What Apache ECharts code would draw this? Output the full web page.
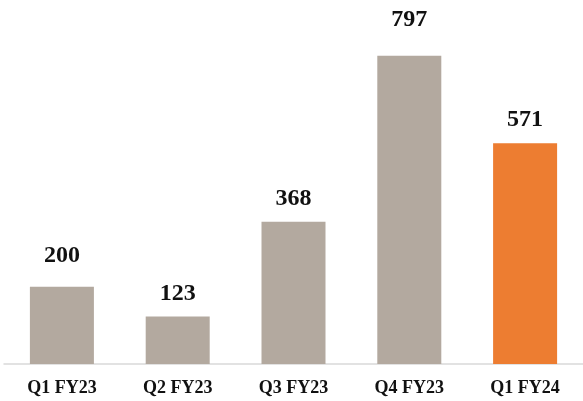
<!DOCTYPE html>
<html><head><meta charset="utf-8">
<script src="https://cdn.jsdelivr.net/npm/echarts@6/dist/echarts.min.js"></script>
<style>html,body{margin:0;padding:0;background:#fff}#c{width:583px;height:401px}</style>
</head><body><div id="c"></div>
<script>
var categories = ['Q1 FY23','Q2 FY23','Q3 FY23','Q4 FY23','Q1 FY24'];
var values = [200, 123, 368, 797, 571];
var barColors = ['#B3A99F','#B3A99F','#B3A99F','#B3A99F','#ED7D31'];
var labelGap = [19, 11, 11, 24, 11];

var chart = echarts.init(document.getElementById('c'));
chart.setOption({
  animation: false,
  grid: {left: 4, right: -2, top: 16, bottom: 37},
  xAxis: {
    type: 'category', data: categories,
    axisLine: {lineStyle: {color: '#D9D9D9', width: 1.5}},
    axisTick: {show: false},
    axisLabel: {fontFamily: 'Liberation Serif', fontWeight: 'bold', fontSize: 18, color: '#111', margin: 15}
  },
  yAxis: {type: 'value', min: 0, max: 900, show: false, splitLine: {show: false}},
  series: [{
    type: 'bar', barWidth: 64,
    data: values.map(function(v, i){
      return {value: v, itemStyle: {color: barColors[i]}, label: {distance: labelGap[i]}};
    }),
    label: {show: true, position: 'top', fontFamily: 'Liberation Serif', fontWeight: 'bold', fontSize: 24, color: '#111'}
  }]
});
</script></body></html>
